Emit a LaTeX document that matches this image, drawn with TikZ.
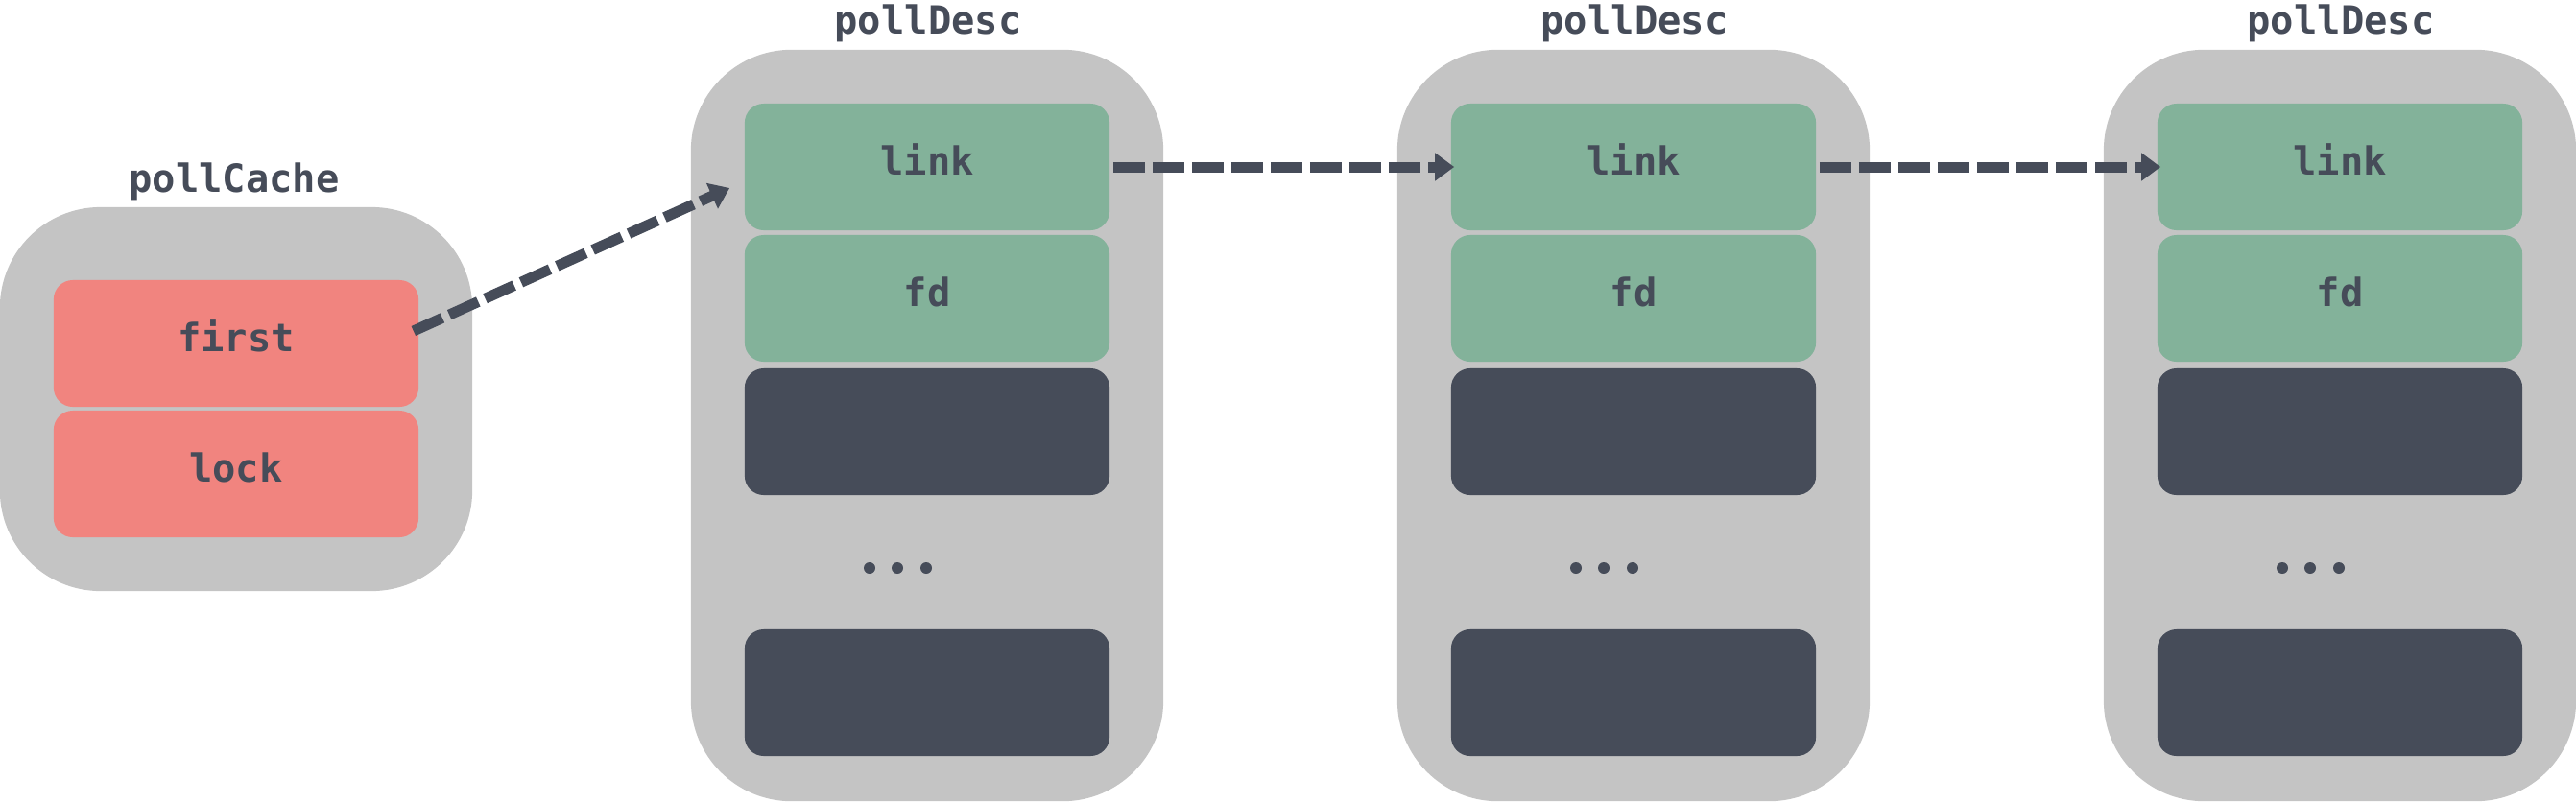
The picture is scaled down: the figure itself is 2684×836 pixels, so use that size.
\documentclass[tikz,border=0pt]{standalone}
\usepackage{fontspec}
\setmonofont{DejaVu Sans Mono}
\usetikzlibrary{arrows.meta}
\definecolor{cgray}{HTML}{C4C4C4}
\definecolor{cred}{HTML}{F1847F}
\definecolor{cgreen}{HTML}{83B29A}
\definecolor{cdark}{HTML}{464C59}
\begin{document}
\begin{tikzpicture}[x=0.01cm,y=-0.01cm,
  outer/.style={fill=cgray, rounded corners=1.05cm, minimum width=4.92cm, inner sep=0pt, draw=none},
  field/.style={rounded corners=0.2cm, minimum width=3.8cm, minimum height=1.32cm, inner sep=0pt,
    text height=0.3cm, text depth=0.14cm, font=\ttfamily\bfseries\fontsize{11.5}{14}\selectfont, text=cdark},
  redfield/.style={field, fill=cred},
  greenfield/.style={field, fill=cgreen},
  darkfield/.style={field, fill=cdark},
  title/.style={anchor=base, inner sep=0pt, font=\ttfamily\bfseries\fontsize{11.5}{14}\selectfont, text=cdark},
  ptr/.style={draw=cdark, line width=0.11cm, dash pattern=on 0.33cm off 0.08cm,
    -{Triangle[length=0.2cm,width=0.28cm]}},
  dot/.style={circle, fill=cdark, inner sep=0pt, minimum size=0.12cm}
]
\useasboundingbox (0,0) rectangle (2684,836);

% pollCache
\node[outer, minimum height=4.0cm] (cache) at (246,416) {};
\node[title] (cachelabel) at (244,200) {pollCache};
\node[redfield] (first) at (246,358) {first};
\node[redfield] (lock) at (246,494) {lock};

% pollDesc structures
\foreach \i in {0,1,2} {
  \pgfmathsetmacro{\ox}{720+736*\i}
  \node[outer, minimum height=7.83cm] (desc\i) at (\ox+246,443.5) {};
  \node[title] (desclabel\i) at (\ox+247,35) {pollDesc};
  \node[greenfield] (link\i) at (\ox+246,174) {link};
  \node[greenfield] (fd\i) at (\ox+246,311) {fd};
  \node[darkfield] (slotA\i) at (\ox+246,450) {};
  \node[darkfield] (slotB\i) at (\ox+246,722) {};
  \node[dot] (dotA\i) at (\ox+186,592) {};
  \node[dot] (dotB\i) at (\ox+215,592) {};
  \node[dot] (dotC\i) at (\ox+245,592) {};
}

% pointers
\draw[ptr] ([shift={(-6,-13)}]first.east) -- ([shift={(-15,22)}]link0.west);
\draw[ptr] ([xshift=0.03cm]link0.east) -- ([xshift=0.04cm]link1.west);
\draw[ptr] ([xshift=0.03cm]link1.east) -- ([xshift=0.04cm]link2.west);
\end{tikzpicture}
\end{document}
